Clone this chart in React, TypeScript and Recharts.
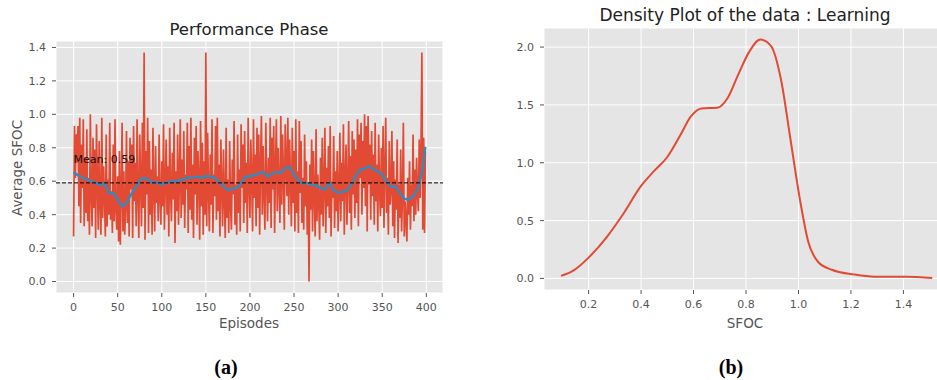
import {
  LineChart,
  Line,
  XAxis,
  YAxis,
  CartesianGrid,
  ReferenceLine,
  ReferenceDot,
} from 'recharts';

// Average SFOC per episode, performance phase (episodes 0..399)
const episodeSfoc = [
  0.27, 0.93, 0.62, 0.88, 0.71, 0.93, 0.45, 0.98, 0.35, 0.82, 0.56, 0.97, 0.33, 0.74, 0.41, 0.91, 0.36, 0.62, 0.28, 1.00,
  0.52, 0.33, 0.86, 0.44, 0.79, 0.26, 0.94, 0.58, 0.31, 0.84, 0.47, 0.28, 0.98, 0.38, 0.69, 0.51, 0.27, 0.88, 0.33, 0.61,
  0.40, 0.95, 0.37, 0.54, 0.29, 0.82, 0.36, 0.97, 0.42, 0.31, 0.63, 0.24, 0.78, 0.22, 0.52, 0.95, 0.30, 0.66, 0.28, 0.45,
  0.90, 0.35, 0.72, 0.27, 0.86, 0.55, 0.82, 0.26, 0.93, 0.48, 0.71, 0.33, 0.97, 0.52, 0.26, 0.88, 0.61, 0.33, 0.95, 0.44,
  1.37, 0.25, 0.78, 0.52, 0.98, 0.29, 0.84, 0.40, 0.67, 0.28, 0.92, 0.55, 0.30, 0.81, 0.47, 0.63, 0.36, 0.88, 0.50, 0.34,
  0.72, 0.45, 0.94, 0.31, 0.58, 0.85, 0.40, 0.69, 0.27, 0.92, 0.53, 0.36, 0.77, 0.49, 0.95, 0.23, 0.66, 0.42, 0.88, 0.34,
  0.60, 0.97, 0.38, 0.73, 0.46, 0.90, 0.32, 0.64, 0.55, 0.95, 0.29, 0.81, 0.43, 0.98, 0.37, 0.70, 0.26, 0.86, 0.52, 0.93,
  0.34, 0.78, 0.62, 0.25, 0.96, 0.45, 0.83, 0.28, 0.72, 0.40, 1.37, 0.33, 0.89, 0.55, 0.30, 0.76, 0.46, 0.97, 0.29, 0.64,
  0.51, 0.93, 0.37, 0.98, 0.42, 0.70, 0.27, 0.85, 0.56, 0.33, 0.79, 0.48, 0.26, 0.92, 0.38, 0.61, 0.29, 0.84, 0.45, 0.31,
  0.73, 0.52, 0.96, 0.34, 0.58, 0.28, 0.88, 0.41, 0.67, 0.30, 0.94, 0.56, 0.82, 0.35, 0.90, 0.47, 0.71, 0.29, 0.98, 0.58,
  0.38, 0.85, 0.62, 0.30, 0.97, 0.50, 0.76, 0.33, 0.92, 0.44, 0.88, 0.28, 0.69, 0.99, 0.40, 0.81, 0.52, 0.31, 0.95, 0.60,
  0.36, 0.74, 0.47, 0.98, 0.32, 0.86, 0.55, 0.93, 0.29, 0.68, 0.97, 0.42, 0.80, 0.58, 0.35, 0.99, 0.46, 0.88, 0.63, 0.31,
  0.94, 0.72, 0.51, 0.98, 0.40, 0.85, 0.60, 0.33, 0.92, 0.47, 0.78, 0.30, 0.97, 0.41, 0.66, 0.29, 0.96, 0.53, 0.84, 0.35,
  0.62, 0.31, 0.88, 0.45, 0.72, 0.28, 0.58, 0.00, 0.70, 0.43, 0.85, 0.30, 0.78, 0.52, 0.27, 0.91, 0.36, 0.64, 0.48, 0.25,
  0.74, 0.40, 0.86, 0.33, 0.57, 0.92, 0.29, 0.68, 0.45, 0.81, 0.38, 0.93, 0.27, 0.60, 0.50, 0.87, 0.32, 0.66, 0.42, 0.78,
  0.30, 0.55, 0.89, 0.36, 0.71, 0.48, 0.94, 0.28, 0.63, 0.82, 0.34, 0.58, 0.96, 0.41, 0.75, 0.31, 0.90, 0.52, 0.85, 0.38,
  0.79, 0.47, 0.97, 0.33, 0.88, 0.62, 0.95, 0.40, 0.84, 0.56, 1.00, 0.45, 0.93, 0.30, 0.99, 0.58, 0.82, 0.37, 0.90, 0.51,
  0.76, 0.34, 0.95, 0.48, 0.70, 0.30, 0.88, 0.55, 0.39, 0.80, 0.44, 0.93, 0.32, 0.67, 0.98, 0.41, 0.62, 0.28, 0.84, 0.46,
  0.55, 0.90, 0.33, 0.72, 0.26, 0.61, 0.43, 0.85, 0.23, 0.58, 0.38, 0.79, 0.30, 0.52, 0.95, 0.27, 0.48, 0.36, 0.24, 0.62,
  0.40, 0.72, 0.31, 0.58, 0.45, 0.88, 0.36, 0.67, 0.40, 0.74, 0.52, 0.42, 0.85, 0.50, 0.80, 1.37, 0.31, 0.86, 0.29, 0.78,
];

// smoothed trend, sampled every 5 episodes
const trendEpisodes = [
  0, 5, 10, 15, 20, 25, 30, 35, 40, 45, 50, 55, 60, 65, 70, 75, 80, 85, 90, 95,
  100, 105, 110, 115, 120, 125, 130, 135, 140, 145, 150, 155, 160, 165, 170, 175, 180, 185, 190, 195,
  200, 205, 210, 215, 220, 225, 230, 235, 240, 245, 250, 255, 260, 265, 270, 275, 280, 285, 290, 295,
  300, 305, 310, 315, 320, 325, 330, 335, 340, 345, 350, 355, 360, 365, 370, 375, 380, 385, 390, 395, 399,
];
const trendSfoc = [
  0.653, 0.635, 0.622, 0.61, 0.6, 0.59, 0.577, 0.587, 0.528, 0.53,
  0.49, 0.45, 0.47, 0.52, 0.56, 0.607, 0.62, 0.61, 0.59, 0.595,
  0.58, 0.59, 0.6, 0.598, 0.607, 0.61, 0.625, 0.62, 0.627, 0.62,
  0.631, 0.628, 0.62, 0.595, 0.57, 0.545, 0.555, 0.56, 0.59, 0.627,
  0.63, 0.637, 0.645, 0.657, 0.627, 0.645, 0.657, 0.647, 0.68, 0.685,
  0.64, 0.605, 0.587, 0.59, 0.578, 0.575, 0.56, 0.55, 0.59, 0.545,
  0.53, 0.538, 0.545, 0.58, 0.63, 0.67, 0.675, 0.69, 0.675, 0.658,
  0.64, 0.595, 0.565, 0.568, 0.53, 0.495, 0.488, 0.51, 0.55, 0.65,
  0.806,
];

const MEAN_SFOC = 0.59;
const MEAN_LABEL_Y = 0.71;

// kernel density estimate of SFOC (learning phase)
const densitySfoc = [
  0.095, 0.14, 0.2, 0.27, 0.33, 0.4, 0.45, 0.5, 0.55, 0.59, 0.63, 0.69, 0.73, 0.77,
  0.81, 0.855, 0.895, 0.935, 0.967, 1.005, 1.037, 1.076, 1.127, 1.21, 1.29, 1.41, 1.51,
];
const densityValue = [
  0.022, 0.065, 0.18, 0.36, 0.55, 0.8, 0.93, 1.05, 1.24, 1.4, 1.47, 1.475, 1.56, 1.76,
  1.95, 2.065, 2.01, 1.7, 1.24, 0.69, 0.32, 0.14, 0.075, 0.035, 0.015, 0.015, 0.004,
];

const episodeTicks = [0, 50, 100, 150, 200, 250, 300, 350, 400];
const sfocTicks = [0, 0.2, 0.4, 0.6, 0.8, 1.0, 1.2, 1.4];
const densityXTicks = [0.2, 0.4, 0.6, 0.8, 1.0, 1.2, 1.4];
const densityYTicks = [0, 0.5, 1.0, 1.5, 2.0];

const trendByEpisode = new Map(trendEpisodes.map((e, k) => [e, trendSfoc[k]]));
const performanceRows = episodeSfoc.map((v, i) => ({
  episode: i,
  sfoc: v,
  trend: trendByEpisode.has(i) ? trendByEpisode.get(i) : null,
}));
const densityRows = densitySfoc.map((x, i) => ({ sfoc: x, density: densityValue[i] }));

const FONT = '"DejaVu Sans", sans-serif';
const RED = '#E24A33';
const BLUE = '#348ABD';
const tickStyle = { fill: '#555555', fontSize: 11, fontFamily: FONT };
const tickLineStyle = { stroke: '#555555' };
const oneDecimal = (v: number) => v.toFixed(1);

function MeanLabel(props: any) {
  return (
    <text x={props.cx} y={props.cy} fontSize={11} fontFamily={FONT} fill="#111">
      Mean: {MEAN_SFOC}
    </text>
  );
}

export default function App() {
  return (
    <div
      style={{
        position: 'fixed',
        top: 0,
        left: 0,
        width: 937,
        height: 380,
        overflow: 'hidden',
        background: '#fff',
        fontFamily: FONT,
      }}
    >
      <div style={{ position: 'absolute', left: 0, top: 0 }}>
        <LineChart
          width={470}
          height={340}
          data={performanceRows}
          margin={{ top: 41, right: 27, bottom: 17, left: 16 }}
        >
          <CartesianGrid stroke="#ffffff" strokeWidth={1} fill="#E5E5E5" fillOpacity={1} />
          <XAxis
            dataKey="episode"
            type="number"
            domain={[-19.95, 418.95]}
            ticks={episodeTicks}
            height={30}
            axisLine={false}
            tick={tickStyle}
            tickLine={tickLineStyle}
            tickSize={4}
            tickMargin={6}
          />
          <YAxis
            type="number"
            domain={[-0.0685, 1.4385]}
            ticks={sfocTicks}
            width={40}
            axisLine={false}
            tick={tickStyle}
            tickLine={tickLineStyle}
            tickSize={4}
            tickMargin={6}
            tickFormatter={oneDecimal}
          />
          <Line
            type="linear"
            dataKey="sfoc"
            stroke={RED}
            strokeWidth={1.7}
            dot={false}
            isAnimationActive={false}
          />
          <Line
            type="linear"
            dataKey="trend"
            stroke={BLUE}
            strokeWidth={2.4}
            dot={false}
            connectNulls
            isAnimationActive={false}
          />
          <ReferenceLine y={MEAN_SFOC} stroke="#000" strokeWidth={1} strokeDasharray="4 2" />
          <ReferenceDot x={0} y={MEAN_LABEL_Y} r={1} shape={MeanLabel} />
        </LineChart>
      </div>

      <div style={{ position: 'absolute', left: 470, top: 0 }}>
        <LineChart
          width={483}
          height={340}
          data={densityRows}
          margin={{ top: 28, right: 5, bottom: 20, left: 34 }}
        >
          <CartesianGrid stroke="#ffffff" strokeWidth={1} fill="#E5E5E5" fillOpacity={1} />
          <XAxis
            dataKey="sfoc"
            type="number"
            domain={[0.03, 1.57]}
            ticks={densityXTicks}
            height={30}
            axisLine={false}
            tick={tickStyle}
            tickLine={tickLineStyle}
            tickSize={4}
            tickMargin={6}
            tickFormatter={oneDecimal}
          />
          <YAxis
            type="number"
            domain={[-0.1, 2.165]}
            ticks={densityYTicks}
            width={40}
            axisLine={false}
            tick={tickStyle}
            tickLine={tickLineStyle}
            tickSize={4}
            tickMargin={6}
            tickFormatter={oneDecimal}
          />
          <Line
            type="monotone"
            dataKey="density"
            stroke={RED}
            strokeWidth={2}
            dot={false}
            isAnimationActive={false}
          />
        </LineChart>
      </div>

      {/* titles, axis labels and panel captions */}
      <svg
        width={937}
        height={380}
        style={{ position: 'absolute', left: 0, top: 0, pointerEvents: 'none' }}
      >
        <text x={249} y={35} textAnchor="middle" fontSize={16.5} fontFamily={FONT} fill="#222">
          Performance Phase
        </text>
        <text x={249} y={328} textAnchor="middle" fontSize={13.5} fontFamily={FONT} fill="#555555">
          Episodes
        </text>
        <text
          x={0}
          y={0}
          transform="translate(21.5 168) rotate(-90)"
          textAnchor="middle"
          fontSize={13.5}
          fontFamily={FONT}
          fill="#555555"
        >
          Average SFOC
        </text>
        <text x={745} y={20.5} textAnchor="middle" fontSize={17} fontFamily={FONT} fill="#222">
          Density Plot of the data : Learning
        </text>
        <text x={745} y={328} textAnchor="middle" fontSize={13.5} fontFamily={FONT} fill="#555555">
          SFOC
        </text>
        <text
          x={226}
          y={374}
          textAnchor="middle"
          fontSize={20}
          fontWeight="bold"
          fontFamily='"Liberation Serif", serif'
          fill="#000"
        >
          (a)
        </text>
        <text
          x={731}
          y={374}
          textAnchor="middle"
          fontSize={20}
          fontWeight="bold"
          fontFamily='"Liberation Serif", serif'
          fill="#000"
        >
          (b)
        </text>
      </svg>
    </div>
  );
}
